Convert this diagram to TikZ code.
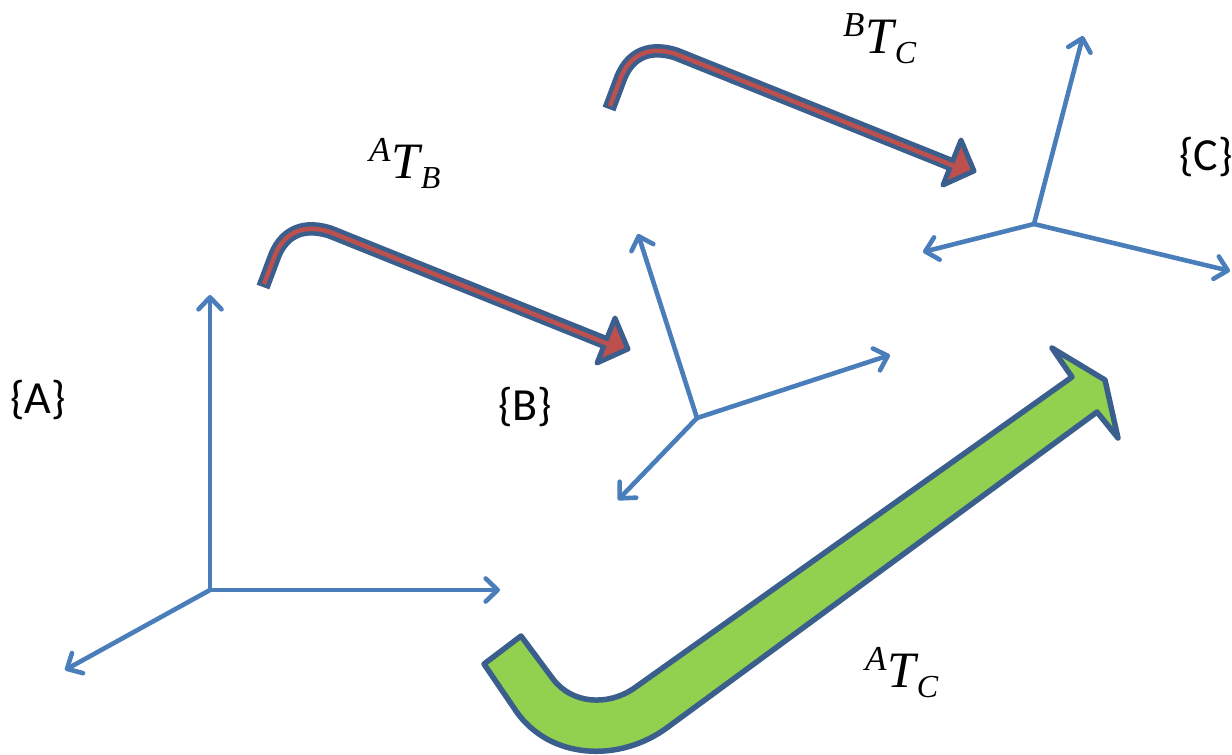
\documentclass[tikz,border=0pt]{standalone}
\usepackage{fontspec}
\setmainfont{Carlito}
\newfontfamily\mathlike{Liberation Serif}
\usetikzlibrary{arrows.meta}
\definecolor{axisblue}{HTML}{4A7EBB}
\definecolor{edgeblue}{HTML}{3B5F8C}
\definecolor{redfill}{HTML}{BC504E}
\definecolor{greenfill}{HTML}{92D050}
\tikzset{
  axis/.style={draw=axisblue,line width=4.6pt,-{Straight Barb[length=12pt,width=23pt,line width=4.6pt,round]}},
  framelabel/.style={font=\fontsize{46}{46}\selectfont,inner sep=0pt,anchor=center,text=black},
  translabel/.style={inner sep=0pt,anchor=base west,text=black},
  shaftdark/.style={draw=edgeblue,line width=13.5pt,line join=round},
  shaftred/.style={draw=redfill,line width=4.5pt,line join=round},
  headtip/.style={draw=edgeblue,fill=redfill,line width=5pt,line join=round},
  bigarrow/.style={draw=edgeblue,fill=greenfill,line width=5.5pt,line join=round}
}
\newcommand{\tlabel}[2]{{\mathlike\itshape
  \raisebox{17pt}{\fontsize{35}{35}\selectfont #1}\kern1pt\fontsize{51}{51}\selectfont T\kern1pt\raisebox{-10pt}{\fontsize{32}{32}\selectfont #2}}}
\newcommand{\bentarrow}{%
  \draw[shaftdark] (263,287) -- (275,255) .. controls (285,231) and (305,224) .. (330,232) -- (604,342);
  \draw[headtip] (615,318) -- (628,349) -- (597,363) -- cycle;
  \draw[shaftred] (264,284) -- (275,255) .. controls (285,231) and (305,224) .. (330,232) -- (608,344);
}
\begin{document}
\begin{tikzpicture}[x=1pt,y=-1pt]
\clip (0,0) rectangle (1232,755);
\fill[white] (0,0) rectangle (1232,755);
% frame A
\coordinate (oa) at (210,590);
\coordinate (ax) at (500,590);
\coordinate (ay) at (210,295);
\coordinate (az) at (65,670);
\draw[axis] (oa) -- (ax);
\draw[axis] (oa) -- (ay);
\draw[axis] (oa) -- (az);
% frame B
\coordinate (ob) at (697,418);
\coordinate (bx) at (890,355);
\coordinate (by) at (638,234);
\coordinate (bz) at (618,500);
\draw[axis] (ob) -- (bx);
\draw[axis] (ob) -- (by);
\draw[axis] (ob) -- (bz);
% frame C
\coordinate (oc) at (1034,224);
\coordinate (cx) at (1230,271);
\coordinate (cy) at (1083,36);
\coordinate (cz) at (923,252);
\draw[axis] (oc) -- (cx);
\draw[axis] (oc) -- (cy);
\draw[axis] (oc) -- (cz);
% bent arrows
\bentarrow
\begin{scope}[shift={(346,-178)}]
\bentarrow
\end{scope}
% large green arrow
\draw[bigarrow] (484,664) -- (521,636) -- (553,679)
  .. controls (572,704) and (607,706) .. (633,689)
  -- (1072,377) -- (1052,348) -- (1105,380) -- (1118,438) -- (1097,412)
  -- (668,727) .. controls (620,763) and (550,760) .. (516,711) -- cycle;
% labels
\node[framelabel] (la) at (38,400) {\{A\}};
\node[framelabel] (lb) at (525,407) {\{B\}};
\node[framelabel] (lc) at (1206,157) {\{C\}};
\node[translabel] (tab) at (369,178) {\tlabel{A}{B}};
\node[translabel] (tbc) at (843,53) {\tlabel{B}{C}};
\node[translabel] (tac) at (865,687) {\tlabel{A}{C}};
\end{tikzpicture}
\end{document}
